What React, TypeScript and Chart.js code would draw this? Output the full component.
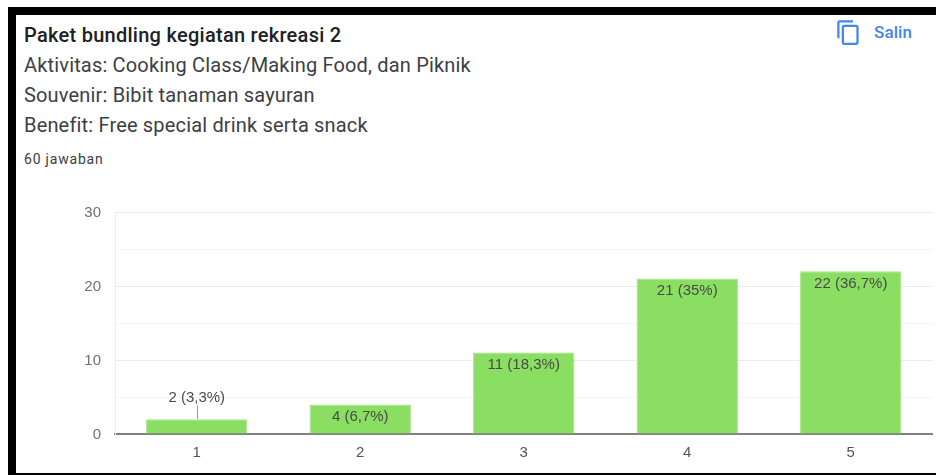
import React, { useEffect, useRef } from "react";
import { Chart, registerables } from "chart.js";

Chart.register(...registerables);

const categories = ["1", "2", "3", "4", "5"];
const responses = [2, 4, 11, 21, 22];
const valueLabels = ["2 (3,3%)", "4 (6,7%)", "11 (18,3%)", "21 (35%)", "22 (36,7%)"];
const yTicks = [0, 10, 20, 30];

const heading = "Paket bundling kegiatan rekreasi 2";
const descriptionLines = [
  "Aktivitas: Cooking Class/Making Food, dan Piknik",
  "Souvenir: Bibit tanaman sayuran",
  "Benefit: Free special drink serta snack",
];
const answerCount = "60 jawaban";
const copyLabel = "Salin";

const CHART_FONT = '"Liberation Sans", Arial, sans-serif';

// Writes each bar's count and share; short bars get theirs above with a leader line.
const barLabelPlugin = {
  id: "barLabels",
  afterDatasetsDraw(chart: any) {
    const { ctx } = chart;
    const bars = chart.getDatasetMeta(0).data;
    ctx.save();
    ctx.font = `15px ${CHART_FONT}`;
    ctx.fillStyle = "#4a4a4a";
    ctx.textAlign = "center";
    ctx.textBaseline = "middle";
    bars.forEach((bar: any, i: number) => {
      const outside = responses[i] < 3;
      if (outside) {
        ctx.strokeStyle = "#999999";
        ctx.lineWidth = 1;
        ctx.beginPath();
        ctx.moveTo(Math.round(bar.x) + 0.5, bar.y);
        ctx.lineTo(Math.round(bar.x) + 0.5, bar.y - 14);
        ctx.stroke();
        ctx.fillText(valueLabels[i], bar.x, bar.y - 21);
      } else {
        ctx.fillText(valueLabels[i], bar.x, bar.y + 12.5);
      }
    });
    ctx.restore();
  },
};

export default function App() {
  const canvasRef = useRef<HTMLCanvasElement>(null);

  useEffect(() => {
    const chart = new Chart(canvasRef.current!, {
      type: "bar",
      data: {
        labels: categories,
        datasets: [
          {
            data: responses,
            backgroundColor: "#8ade62",
            borderColor: "#a5e585",
            borderWidth: 1,
            barPercentage: 0.62,
            categoryPercentage: 1,
          },
        ],
      },
      options: {
        responsive: false,
        animation: false,
        layout: { padding: { top: 31, right: 3.5, bottom: 0, left: 0 } },
        plugins: { legend: { display: false }, tooltip: { enabled: false } },
        scales: {
          x: {
            grid: { display: false },
            border: { color: "#808080", width: 2 },
            ticks: { color: "#555555", font: { family: CHART_FONT, size: 15 }, padding: 2 },
            afterFit(scale: any) {
              scale.height = 41;
            },
          },
          y: {
            min: 0,
            max: 30,
            afterBuildTicks(scale: any) {
              scale.ticks = [0, 5, 10, 15, 20, 25, 30].map((value) => ({ value }));
            },
            grid: {
              color: (c: any) => (yTicks.includes(c.tick?.value) ? "#ebebeb" : "#f5f5f5"),
              drawTicks: false,
            },
            border: { color: "#ebebeb", width: 1 },
            ticks: {
              color: "#707070",
              font: { family: CHART_FONT, size: 15 },
              padding: 14,
              labelOffset: 1,
              callback: (value: any) => (yTicks.includes(Number(value)) ? String(value) : ""),
            },
            afterFit(scale: any) {
              scale.width = 115;
            },
          },
        },
      },
      plugins: [barLabelPlugin],
    } as any);
    return () => chart.destroy();
  }, []);

  const lineStyle: React.CSSProperties = {
    position: "absolute",
    left: 24,
    fontFamily: "Roboto, sans-serif",
    fontSize: 20,
    lineHeight: "30px",
    letterSpacing: 0.17,
    color: "#3c4043",
    whiteSpace: "nowrap",
  };

  return (
    <div style={{ position: "fixed", left: 0, top: 0, width: 936, height: 475, background: "#fff", overflow: "hidden" }}>
      <div style={{ position: "absolute", left: 8, top: 7, width: 928, height: 8, background: "#000" }} />
      <div style={{ position: "absolute", left: 8, top: 7, width: 8, height: 468, background: "#000" }} />
      <div style={{ position: "absolute", left: 8, top: 473, width: 928, height: 2, background: "#000" }} />
      <div style={{ ...lineStyle, top: 20, fontWeight: 500, letterSpacing: 0.27, color: "#202124" }}>{heading}</div>
      {descriptionLines.map((line, i) => (
        <div key={line} style={{ ...lineStyle, top: 50 + i * 30 }}>
          {line}
        </div>
      ))}
      <div style={{ ...lineStyle, top: 149, fontSize: 14, lineHeight: "20px", letterSpacing: 0.8 }}>{answerCount}</div>
      <svg
        viewBox="0 0 24 24"
        width={27}
        height={27}
        style={{ position: "absolute", left: 835, top: 19 }}
        fill="#4285f4"
      >
        <path d="M16 1H4c-1.1 0-2 .9-2 2v14h2V3h12V1zm3 4H8c-1.1 0-2 .9-2 2v14c0 1.1.9 2 2 2h11c1.1 0 2-.9 2-2V7c0-1.1-.9-2-2-2zm0 16H8V7h11v14z" />
      </svg>
      <div
        style={{
          position: "absolute",
          left: 874,
          top: 21,
          fontFamily: "Roboto, sans-serif",
          fontSize: 17,
          fontWeight: 500,
          letterSpacing: 0.1,
          lineHeight: "22px",
          color: "#4285f4",
        }}
      >
        {copyLabel}
      </div>
      <canvas
        ref={canvasRef}
        width={936}
        height={294}
        style={{ position: "absolute", left: 0, top: 181, width: 936, height: 294 }}
      />
    </div>
  );
}
